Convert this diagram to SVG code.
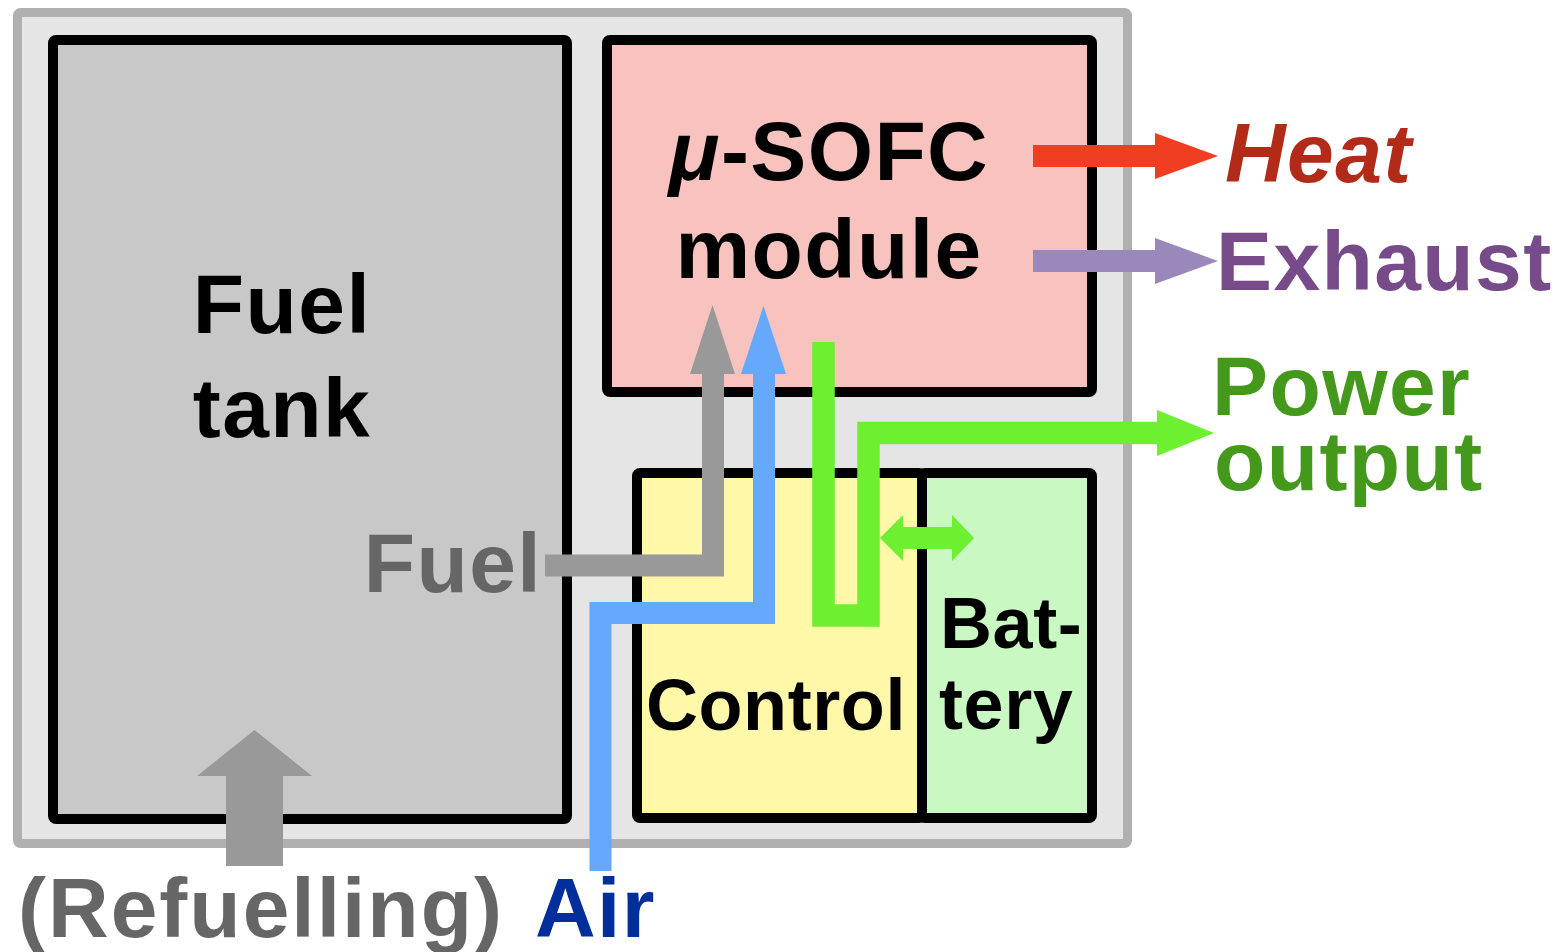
<svg xmlns="http://www.w3.org/2000/svg" width="1559" height="952" viewBox="0 0 1559 952">
<style>
text{font-family:"Liberation Sans",Arial,Helvetica,sans-serif;font-weight:bold}
.box{stroke:#000;stroke-width:10;stroke-linejoin:round}
.big{font-size:84px;letter-spacing:1.4px}
.mid{font-size:72px;letter-spacing:0.6px}
</style>
<rect width="1559" height="952" fill="#ffffff"/>
<g id="frame"><rect x="17.5" y="12.5" width="1110" height="831" rx="3" fill="#e5e5e5" stroke="#b0b0b0" stroke-width="9"/></g>
<g id="fuel-tank">
<rect class="box" x="53" y="40" width="514" height="779" rx="3" fill="#c8c8c8"/>
<text class="big" x="282" y="333" text-anchor="middle" fill="#000">Fuel</text>
<text class="big" x="282" y="437" text-anchor="middle" fill="#000">tank</text>
</g>
<g id="sofc">
<rect class="box" x="607" y="40" width="485" height="352" rx="3" fill="#f8c3bf"/>
<text class="big" x="829" y="180" text-anchor="middle" fill="#000"><tspan font-style="italic">μ</tspan>-SOFC</text>
<text class="big" x="829" y="278" text-anchor="middle" fill="#000">module</text>
</g>
<g id="control">
<rect class="box" x="637" y="473" width="285" height="345" rx="3" fill="#fff8a8"/>
<text class="mid" x="776" y="730" text-anchor="middle" fill="#000">Control</text>
</g>
<g id="battery">
<rect class="box" x="922" y="473" width="170" height="345" rx="3" fill="#c9f8c2"/>
<text class="mid" x="940" y="648" fill="#000">Bat-</text>
<text class="mid" x="939" y="729" fill="#000">tery</text>
</g>
<g id="connectors" fill="none" stroke-linejoin="miter" stroke-linecap="butt">
<path d="M545,565.5 H713 V374" stroke="#999999" stroke-width="22"/>
<polygon points="690,374 735,374 712.5,305" fill="#999999"/>
<path d="M600.5,871 V613 H764 V374" stroke="#66a8fc" stroke-width="22"/>
<polygon points="741,374 786,374 763.5,306" fill="#66a8fc"/>
<path d="M823.5,342 V615.5 H868.5 V433 H1158" stroke="#6cf030" stroke-width="22.5"/>
<polygon points="1157,410 1157,456 1214,433" fill="#6cf030"/>
<polygon points="880,538 903,515 903,527 952,527 952,515 974,538 952,561 952,549 903,549 903,561" fill="#6cf030"/>
<path d="M1033,156 H1156" stroke="#ef3e22" stroke-width="22"/>
<polygon points="1155,133 1155,179 1218,156" fill="#ef3e22"/>
<path d="M1033,261 H1156" stroke="#9b88bb" stroke-width="22"/>
<polygon points="1155,238 1155,284 1218,261" fill="#9b88bb"/>
<path d="M254.5,866 V775" stroke="#999999" stroke-width="57"/>
<polygon points="197,776 312,776 254.5,730" fill="#999999"/>
</g>
<g id="labels">
<text class="big" x="1225" y="182" fill="#b22a18" font-style="italic">Heat</text>
<text class="big" x="1216" y="290" fill="#774b8a">Exhaust</text>
<text class="big" x="1212" y="415" fill="#44981c">Power</text>
<text class="big" x="1214" y="490" fill="#44981c">output</text>
<text class="big" x="542" y="592" text-anchor="end" fill="#666666">Fuel</text>
<text class="big" x="18" y="937" fill="#666666" style="letter-spacing:2px">(Refuelling)</text>
<text class="big" x="535" y="937" fill="#002e9a">Air</text>
</g>
</svg>
